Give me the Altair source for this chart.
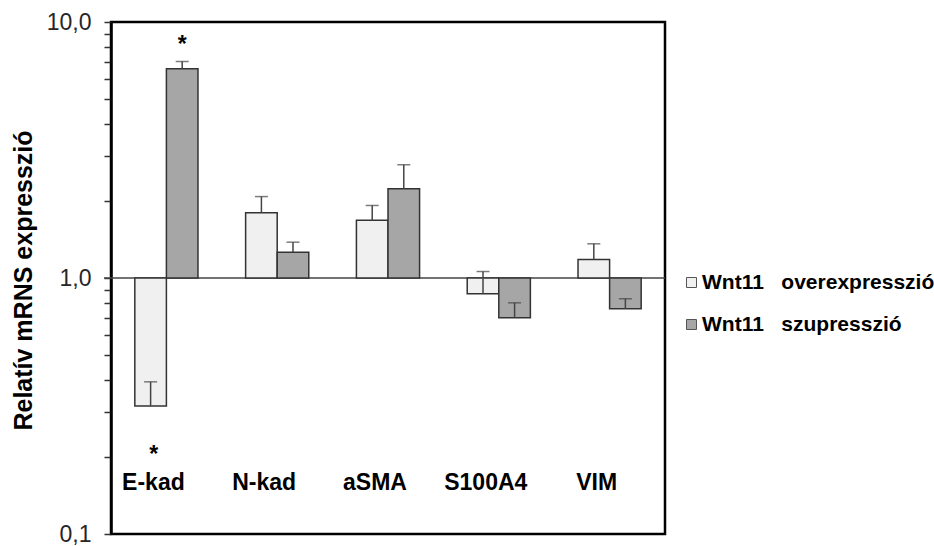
import altair as alt
import pandas as pd

# Relative mRNA expression (fold change vs. control), log scale
genes = ["E-kad", "N-kad", "aSMA", "S100A4", "VIM"]
series = ["Wnt11 overexpresszió", "Wnt11 szupresszió"]

over_mean = [0.316, 1.80, 1.68, 0.868, 1.18]
over_upper = [0.393, 2.08, 1.92, 1.06, 1.36]
sup_mean = [6.56, 1.26, 2.23, 0.699, 0.758]
sup_upper = [7.01, 1.38, 2.77, 0.80, 0.83]

# significance markers (gene, series)
over_sig = ["E-kad"]
sup_sig = ["E-kad"]

y_ticks = [0.1, 0.2, 0.3, 0.4, 0.5, 0.6, 0.7, 0.8, 0.9,
           1, 2, 3, 4, 5, 6, 7, 8, 9, 10]

rows = []
for g, m, u in zip(genes, over_mean, over_upper):
    rows.append({"gene": g, "series": series[0], "mean": m, "upper": u, "base": 1.0})
for g, m, u in zip(genes, sup_mean, sup_upper):
    rows.append({"gene": g, "series": series[1], "mean": m, "upper": u, "base": 1.0})
df = pd.DataFrame(rows)

FONT = "Liberation Sans"
W, H = 554, 512

x_scale = alt.Scale(paddingInner=0.43, paddingOuter=0.215)
x_enc = alt.X("gene:N", sort=genes, scale=x_scale, axis=None)
xoff = alt.XOffset("series:N", sort=series, scale=alt.Scale(paddingInner=0, paddingOuter=0))
y_scale = alt.Scale(type="log", domain=[0.1, 10], nice=False)

base = alt.Chart(df)

baseline = alt.Chart(pd.DataFrame({"v": [1.0]})).mark_rule(
    color="#444", strokeWidth=1.5
).encode(
    y=alt.Y("v:Q", scale=y_scale,
            axis=alt.Axis(
                title="Relatív mRNS expresszió",
                values=y_ticks,
                labelExpr="datum.value > 9.99 ? '10,0' : (abs(datum.value - 1) < 1e-6 ? '1,0' : (datum.value < 0.1001 ? '0,1' : ''))",
                labelFont=FONT, labelFontSize=23, labelColor="#262626",
                labelPadding=13,
                tickColor="#333", tickSize=7, tickWidth=1.5,
                domainColor="#000", domainWidth=2.5,
                grid=False,
                titleFont=FONT, titleFontSize=25, titleFontWeight="bold",
                titleColor="#000", titleX=-88, titleY=H / 2 + 2,
                titleAngle=-90, titleBaseline="middle", titleAlign="center",
            )),
    x=alt.value(-7), x2=alt.value(W),
)

bars = base.mark_bar(stroke="#333", strokeWidth=1.5).encode(
    x=x_enc, xOffset=xoff,
    y=alt.Y("mean:Q", scale=y_scale),
    y2="base:Q",
    color=alt.Color("series:N", sort=series,
                    scale=alt.Scale(domain=series, range=["#f0f0f0", "#a6a6a6"]),
                    legend=alt.Legend(
                        title=None, orient="none", legendX=570, legendY=250,
                        symbolType="square", symbolSize=100,
                        symbolStrokeColor="#555", symbolStrokeWidth=1,
                        labelFont=FONT, labelFontSize=21, labelFontWeight="bold",
                        labelColor="#000", labelOffset=0, rowPadding=20,
                        labelLimit=400, padding=0,
                        labelExpr="replace(datum.label, ' ', '\u00a0\u00a0\u00a0')",
                    )),
)

err_line = base.mark_rule(color="#444", strokeWidth=1.5).encode(
    x=x_enc, xOffset=xoff,
    y=alt.Y("mean:Q", scale=y_scale), y2="upper:Q",
)

err_cap = base.mark_tick(color="#444", size=13, thickness=1.5).encode(
    x=x_enc, xOffset=xoff,
    y=alt.Y("upper:Q", scale=y_scale),
)

star_over = base.transform_filter(
    alt.FieldOneOfPredicate(field="gene", oneOf=over_sig)
).transform_filter(alt.datum.series == series[0]).mark_text(
    text="*", font=FONT, fontSize=23, fontWeight="bold", color="#000",
    baseline="alphabetic", dy=56, dx=3,
).encode(x=x_enc, xOffset=xoff, y=alt.Y("mean:Q", scale=y_scale))

star_sup = base.transform_filter(
    alt.FieldOneOfPredicate(field="gene", oneOf=sup_sig)
).transform_filter(alt.datum.series == series[1]).mark_text(
    text="*", font=FONT, fontSize=23, fontWeight="bold", color="#000",
    baseline="alphabetic", dy=-9,
).encode(x=x_enc, xOffset=xoff, y=alt.Y("upper:Q", scale=y_scale))

gene_labels = alt.Chart(pd.DataFrame({"gene": genes})).mark_text(
    font=FONT, fontSize=23, fontWeight="bold", color="#000",
    baseline="alphabetic", dx=-13,
).encode(
    x=alt.X("gene:N", sort=genes, scale=x_scale, axis=None),
    y=alt.datum(0.148),
    text="gene:N",
)

chart = alt.layer(
    baseline, bars, err_line, err_cap, star_over, star_sup, gene_labels
).resolve_scale(y="shared").properties(
    width=W, height=H,
    autosize=alt.AutoSizeParams(type="none"),
    padding={"left": 111, "top": 22, "right": 269, "bottom": 12},
    background="white",
).configure_view(stroke="#000", strokeWidth=2.5)

chart.save("out.html", embed_options={"renderer": "svg", "actions": False})
